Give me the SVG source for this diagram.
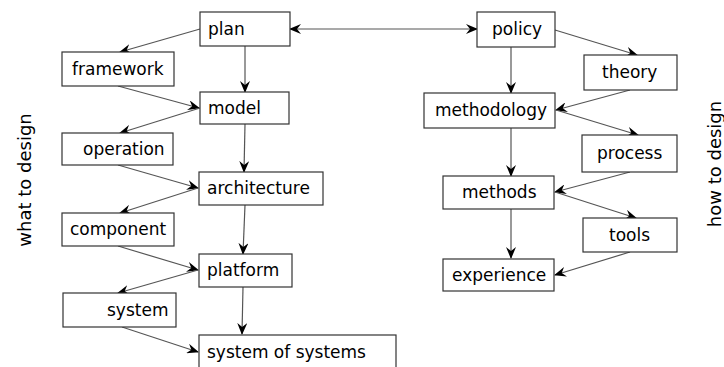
<svg xmlns="http://www.w3.org/2000/svg" width="724" height="367" viewBox="0 0 724 367">
<defs>
<style>
.box{fill:#fff;stroke:#333;stroke-width:1.2}
.t{font-family:"DejaVu Sans",Verdana,sans-serif;font-size:17px;fill:#000}
.side{font-family:"DejaVu Sans",Verdana,sans-serif;font-size:18px;fill:#000;text-anchor:middle}
.c{stroke:#555;stroke-width:1.2;fill:none;marker-end:url(#ah)}
</style>
<marker id="ah" viewBox="0 0 12 10" refX="11" refY="5" markerWidth="12" markerHeight="10" markerUnits="userSpaceOnUse" orient="auto-start-reverse">
<path d="M0,0 L12,5 L0,10 L4,5 z" fill="#000"/>
</marker>
</defs>
<rect width="724" height="367" fill="#fff"/>
<text class="side" transform="translate(31,180) rotate(-90)">what to design</text>
<text class="side" transform="translate(721,164) rotate(-90)">how to design</text>
<g id="connectors">
<path class="c" d="M290,29 L477,29" marker-start="url(#ah)"/>
<path class="c" d="M200,29 L120,52"/>
<path class="c" d="M245,46 L245,92"/>
<path class="c" d="M118,86 L199,108"/>
<path class="c" d="M200,108 L120,133"/>
<path class="c" d="M245,124 L244,172"/>
<path class="c" d="M118,165 L198,188"/>
<path class="c" d="M198,188 L120,213"/>
<path class="c" d="M245,205 L243,254"/>
<path class="c" d="M118,246 L198,270"/>
<path class="c" d="M198,270 L118,293"/>
<path class="c" d="M243,287 L242,334"/>
<path class="c" d="M122,327 L198,352"/>
<path class="c" d="M555,30 L637,55"/>
<path class="c" d="M511,47 L511,93"/>
<path class="c" d="M630,90 L556,110"/>
<path class="c" d="M556,110 L638,135"/>
<path class="c" d="M511,128 L511,176"/>
<path class="c" d="M630,172 L555,192"/>
<path class="c" d="M555,192 L636,218"/>
<path class="c" d="M511,209 L511,258"/>
<path class="c" d="M630,252 L555,275"/>
</g>
<g id="plan"><rect class="box" x="200" y="12" width="90" height="34"/><text class="t" x="208" y="35">plan</text></g>
<g id="framework"><rect class="box" x="62" y="52" width="112" height="34"/><text class="t" x="72" y="75">framework</text></g>
<g id="model"><rect class="box" x="200" y="92" width="89" height="32"/><text class="t" x="208" y="114">model</text></g>
<g id="operation"><rect class="box" x="62" y="133" width="111" height="32"/><text class="t" x="83" y="155">operation</text></g>
<g id="architecture"><rect class="box" x="199" y="172" width="124" height="33"/><text class="t" x="207" y="194">architecture</text></g>
<g id="component"><rect class="box" x="62" y="213" width="112" height="33"/><text class="t" x="70" y="235">component</text></g>
<g id="platform"><rect class="box" x="199" y="254" width="93" height="33"/><text class="t" x="207" y="276">platform</text></g>
<g id="system"><rect class="box" x="63" y="293" width="113" height="34"/><text class="t" x="107" y="316">system</text></g>
<g id="system-of-systems"><rect class="box" x="199" y="335" width="197" height="40"/><text class="t" x="207" y="358">system of systems</text></g>
<g id="policy"><rect class="box" x="477" y="12" width="78" height="35"/><text class="t" x="492" y="35">policy</text></g>
<g id="theory"><rect class="box" x="584" y="55" width="93" height="35"/><text class="t" x="602" y="78">theory</text></g>
<g id="methodology"><rect class="box" x="424" y="93" width="131" height="35"/><text class="t" x="435" y="116">methodology</text></g>
<g id="process"><rect class="box" x="582" y="135" width="95" height="37"/><text class="t" x="597" y="159">process</text></g>
<g id="methods"><rect class="box" x="443" y="176" width="111" height="33"/><text class="t" x="462" y="198">methods</text></g>
<g id="tools"><rect class="box" x="583" y="218" width="94" height="34"/><text class="t" x="609" y="241">tools</text></g>
<g id="experience"><rect class="box" x="443" y="259" width="111" height="32"/><text class="t" x="452" y="281">experience</text></g>
</svg>
